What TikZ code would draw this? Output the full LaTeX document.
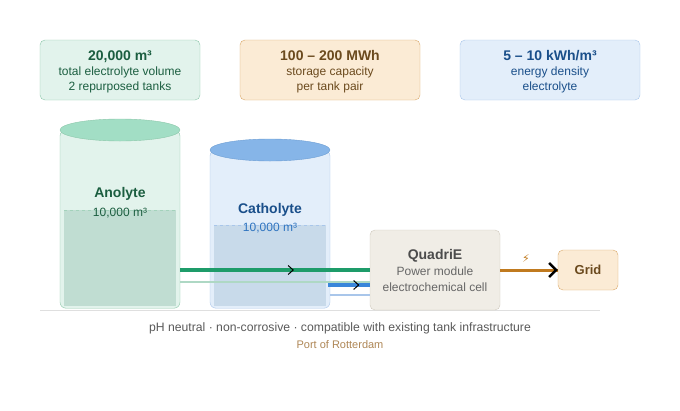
\documentclass[tikz,border=0pt]{standalone}
\usepackage{fontspec}
\setmainfont{Liberation Sans}
\newfontfamily\symfont{DejaVu Sans}
\usetikzlibrary{positioning,calc,decorations.markings,arrows.meta}
\definecolor{grnfill}{HTML}{E2F3EC}
\definecolor{grnline}{HTML}{8CC7AA}
\definecolor{grntop}{HTML}{A2DEC5}
\definecolor{grnliq}{HTML}{C0DDD2}
\definecolor{grndark}{HTML}{1B5E40}
\definecolor{grnpipe}{HTML}{1E9C6A}
\definecolor{orgfill}{HTML}{FBEBD5}
\definecolor{orgline}{HTML}{D9A86A}
\definecolor{orgdark}{HTML}{6B4A1E}
\definecolor{orgpipe}{HTML}{C07A1F}
\definecolor{bluefill}{HTML}{E3EEFA}
\definecolor{blueline}{HTML}{A9C6EA}
\definecolor{bluetop}{HTML}{86B5E8}
\definecolor{blueliq}{HTML}{C8DAEA}
\definecolor{bluedark}{HTML}{1A4F8A}
\definecolor{bluetext}{HTML}{2F74C0}
\definecolor{bluepipe}{HTML}{3A86DA}
\definecolor{cellfill}{HTML}{F0EDE6}
\definecolor{cellline}{HTML}{CFCABD}
\tikzset{
  infobox/.style={draw, rounded corners=5pt, minimum width=#1, minimum height=60pt, align=center, font=\fontsize{12}{15}\selectfont},
  tankbody/.style={draw, rounded corners=6pt, minimum width=120pt, anchor=north},
  midarrow/.style={postaction={decorate}, decoration={markings, mark=at position #1 with {\arrow[black,line width=1pt]{Straight Barb[length=5pt,width=9pt]}}}},
}
\begin{document}
\begin{tikzpicture}[x=1pt,y=-1pt]
\useasboundingbox (0,0) rectangle (680,410);
% info boxes
\draw[fill=grnfill, draw=grnline, rounded corners=5pt] (40,40) rectangle (200,100);
\node[infobox=160pt, draw=none, text=grndark] (volume) at (120,72)
  {{\bfseries\fontsize{14}{16}\selectfont 20,000 m³}\\total electrolyte volume\\2 repurposed tanks};
\draw[fill=orgfill, draw=orgline, rounded corners=5pt] (240,40) rectangle (420,100);
\node[infobox=180pt, draw=none, text=orgdark] (capacity) at (330,72)
  {{\bfseries\fontsize{14}{16}\selectfont 100 – 200 MWh}\\storage capacity\\per tank pair};
\draw[fill=bluefill, draw=blueline, rounded corners=5pt] (460,40) rectangle (640,100);
\node[infobox=180pt, draw=none, text=bluedark] (density) at (550,72)
  {{\bfseries\fontsize{14}{16}\selectfont 5 – 10 kWh/m³}\\energy density\\electrolyte};
% ground
\draw[gray!25, line width=1pt] (40,310) -- (600,310);
% anolyte tank
\node[tankbody, fill=grnfill, draw=grnline, minimum height=178pt] (anolyte) at (120,130) {};
\fill[grnliq] (64,210) rectangle (176,306);
\draw[grnline!80, dashed] (64,210) -- (176,210);
\draw[fill=grntop, draw=grnline] (120,130) ellipse (60pt and 11pt);
\node[font=\bfseries\fontsize{14}{16}\selectfont, text=grndark] (anoname) at (120,194) {Anolyte};
\node[font=\fontsize{12}{14}\selectfont, text=grndark] (anovol) at (120,213) {10,000 m³};
% catholyte tank
\node[tankbody, fill=bluefill, draw=blueline, minimum height=158pt] (catholyte) at (270,150) {};
\fill[blueliq] (214,225) rectangle (326,306);
\draw[blueline, dashed] (214,225) -- (326,225);
\draw[fill=bluetop, draw=bluetext!70] (270,150) ellipse (60pt and 11pt);
\node[font=\bfseries\fontsize{14}{16}\selectfont, text=bluedark] (catname) at (270,210) {Catholyte};
\node[font=\fontsize{12}{14}\selectfont, text=bluetext] (catvol) at (270,228) {10,000 m³};
% cell and grid
\node[draw=cellline, fill=cellfill, rounded corners=5pt, minimum width=130pt, minimum height=80pt,
  align=center, text=black!60, font=\fontsize{12}{16}\selectfont] (cell) at (435,270)
  {{\bfseries\fontsize{14}{16}\selectfont\color{black!70}QuadriE}\\Power module\\electrochemical cell};
\node[draw=orgline, fill=orgfill, rounded corners=5pt, minimum width=60pt, minimum height=40pt,
  text=orgdark, font=\bfseries\fontsize{13}{15}\selectfont] (grid) at (588,270) {Grid};
% pipes
\coordinate (anoout) at (180,270);
\coordinate (anoret) at (180,282);
\coordinate (catout) at (328,285);
\coordinate (catret) at (330,295);
\draw[grnpipe, line width=4pt, midarrow=0.6] (anoout) -- (anoout -| cell.west);
\draw[grnline!70, line width=1.2pt] (anoret) -- (anoret -| cell.west);
\draw[bluepipe, line width=4pt, midarrow=0.75] (catout) -- (catout -| cell.west);
\draw[blueline, line width=1.2pt] (catret) -- (catret -| cell.west);
\draw[orgpipe, line width=3pt] (cell.east) -- (grid.west);
\draw[black, line width=2.5pt, -{Straight Barb[length=7pt,width=14pt]}] ($(grid.west)+(-4,0)$) -- (grid.west);
\node[text=orgpipe, font=\symfont\fontsize{11}{11}\selectfont] (bolt) at (526,258) {⚡};
% footer
\node[text=black!65, font=\fontsize{12.2}{14}\selectfont] (claims) at (340,328)
  {pH neutral · non-corrosive · compatible with existing tank infrastructure};
\node[text=orgline!80!black, font=\fontsize{11}{13}\selectfont] (site) at (340,345) {Port of Rotterdam};
\end{tikzpicture}
\end{document}
